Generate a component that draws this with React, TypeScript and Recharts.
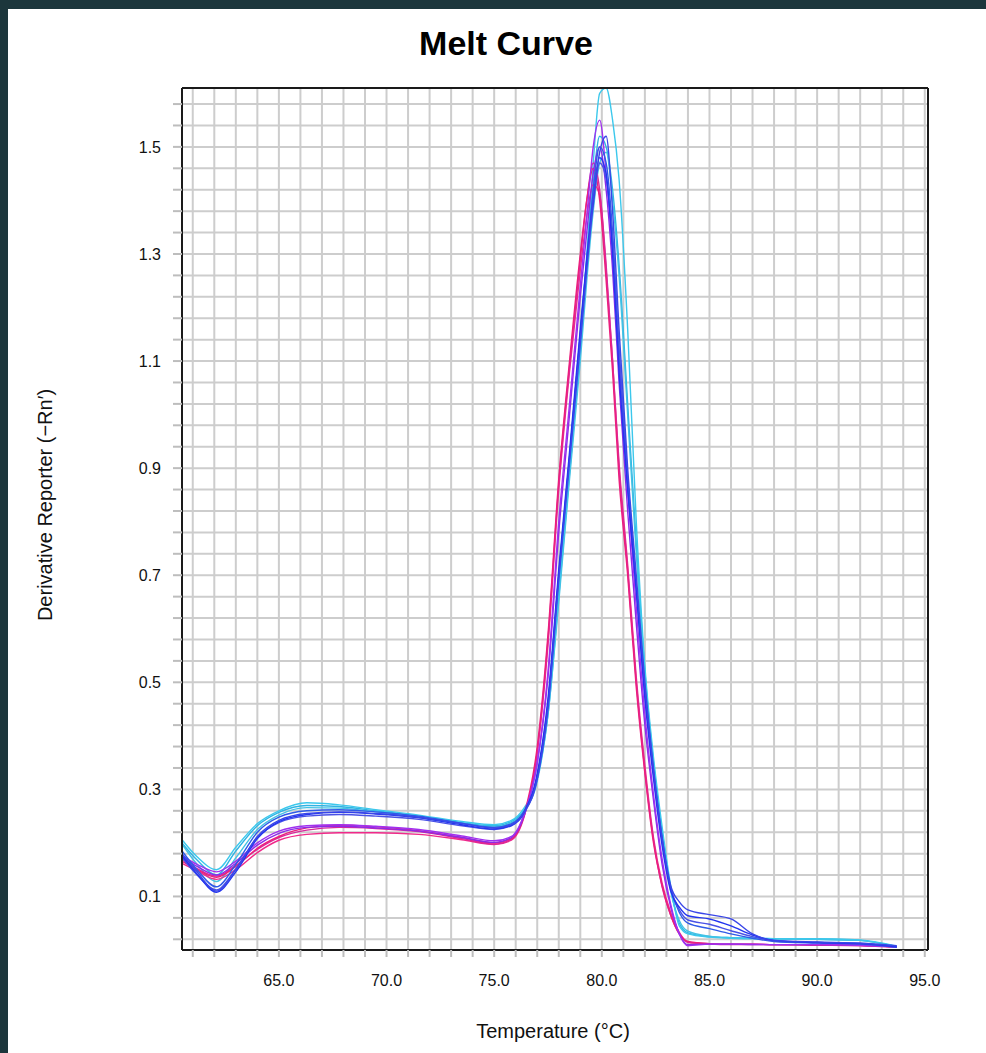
import React from "react";
import { LineChart, Line, XAxis, YAxis, CartesianGrid, ReferenceLine } from "recharts";

// temperature points (°C) shared by every well
const temps = [
  60.5, 61.2, 62.1, 63.0, 64.0, 65.0, 66.3, 67.8, 69.5, 71.5, 73.5, 75.0, 75.8, 76.4, 77.0, 77.5, 78.0, 78.5, 79.0, 79.3,
  79.6, 79.9, 80.2, 80.5, 80.8, 81.2, 81.6, 82.0, 82.4, 82.8, 83.2, 83.6, 84.0, 85.0, 86.0, 87.0, 88.0, 90.0, 92.0, 93.7,
];

// derivative reporter per well
const cyan1 = [
  0.206, 0.174, 0.15, 0.192, 0.236, 0.26, 0.275, 0.271, 0.262, 0.252, 0.24, 0.234, 0.242, 0.266, 0.32, 0.45, 0.67, 0.9, 1.13, 1.3,
  1.47, 1.6, 1.61, 1.55, 1.44, 1.16, 0.8, 0.53, 0.36, 0.23, 0.12, 0.045, 0.03, 0.024, 0.022, 0.021, 0.021, 0.021, 0.019, 0.007,
];
const cyan2 = [
  0.2, 0.168, 0.14, 0.185, 0.232, 0.257, 0.27, 0.268, 0.26, 0.25, 0.238, 0.232, 0.24, 0.262, 0.32, 0.44, 0.66, 0.89, 1.12, 1.28,
  1.43, 1.52, 1.5, 1.42, 1.28, 1.02, 0.76, 0.52, 0.35, 0.22, 0.115, 0.05, 0.032, 0.025, 0.023, 0.022, 0.021, 0.02, 0.018, 0.006,
];
const cyan3 = [
  0.198, 0.16, 0.128, 0.172, 0.225, 0.252, 0.266, 0.265, 0.258, 0.248, 0.236, 0.23, 0.238, 0.26, 0.315, 0.44, 0.65, 0.88, 1.1, 1.25,
  1.38, 1.47, 1.49, 1.4, 1.26, 1.0, 0.74, 0.51, 0.345, 0.215, 0.11, 0.055, 0.035, 0.026, 0.023, 0.022, 0.021, 0.02, 0.018, 0.006,
];
const blue1 = [
  0.18, 0.146, 0.11, 0.15, 0.212, 0.242, 0.255, 0.258, 0.255, 0.248, 0.236, 0.228, 0.234, 0.258, 0.32, 0.45, 0.69, 0.91, 1.13, 1.27,
  1.4, 1.49, 1.52, 1.38, 1.16, 0.9, 0.7, 0.5, 0.34, 0.21, 0.12, 0.09, 0.075, 0.066, 0.058, 0.03, 0.018, 0.015, 0.013, 0.008,
];
const blue2 = [
  0.176, 0.142, 0.108, 0.146, 0.208, 0.24, 0.253, 0.257, 0.254, 0.247, 0.234, 0.226, 0.233, 0.258, 0.33, 0.47, 0.71, 0.93, 1.16, 1.29,
  1.4, 1.48, 1.45, 1.3, 1.08, 0.86, 0.67, 0.47, 0.32, 0.195, 0.11, 0.08, 0.064, 0.058, 0.045, 0.028, 0.018, 0.014, 0.012, 0.006,
];
const blue3 = [
  0.172, 0.14, 0.112, 0.152, 0.21, 0.238, 0.25, 0.253, 0.25, 0.244, 0.232, 0.225, 0.232, 0.256, 0.32, 0.46, 0.7, 0.92, 1.15, 1.28,
  1.39, 1.47, 1.44, 1.32, 1.12, 0.88, 0.68, 0.48, 0.33, 0.205, 0.115, 0.075, 0.056, 0.048, 0.036, 0.025, 0.017, 0.014, 0.012, 0.006,
];
const blue4 = [
  0.185, 0.15, 0.118, 0.16, 0.22, 0.248, 0.26, 0.262, 0.258, 0.25, 0.237, 0.229, 0.236, 0.26, 0.325, 0.46, 0.7, 0.92, 1.15, 1.29,
  1.42, 1.5, 1.47, 1.34, 1.12, 0.87, 0.68, 0.49, 0.335, 0.21, 0.115, 0.07, 0.05, 0.04, 0.03, 0.022, 0.016, 0.013, 0.011, 0.005,
];
const violet1 = [
  0.176, 0.16, 0.146, 0.166, 0.2, 0.222, 0.232, 0.234, 0.231, 0.225, 0.213, 0.204, 0.212, 0.255, 0.35, 0.52, 0.8, 1.02, 1.24, 1.37,
  1.5, 1.55, 1.45, 1.3, 1.1, 0.86, 0.64, 0.44, 0.29, 0.17, 0.085, 0.03, 0.008, 0.011, 0.011, 0.011, 0.01, 0.01, 0.009, 0.006,
];
const violet2 = [
  0.172, 0.156, 0.14, 0.162, 0.196, 0.218, 0.229, 0.231, 0.228, 0.222, 0.21, 0.201, 0.21, 0.252, 0.35, 0.51, 0.78, 1.0, 1.22, 1.34,
  1.45, 1.5, 1.42, 1.27, 1.06, 0.82, 0.61, 0.42, 0.28, 0.16, 0.08, 0.03, 0.01, 0.011, 0.011, 0.01, 0.01, 0.01, 0.009, 0.006,
];
const pink1 = [
  0.166, 0.15, 0.136, 0.156, 0.19, 0.212, 0.228, 0.233, 0.23, 0.223, 0.21, 0.2, 0.208, 0.255, 0.38, 0.59, 0.88, 1.1, 1.3, 1.4,
  1.46, 1.4, 1.25, 1.08, 0.88, 0.7, 0.49, 0.33, 0.2, 0.12, 0.065, 0.03, 0.016, 0.012, 0.011, 0.011, 0.01, 0.01, 0.009, 0.006,
];
const pink2 = [
  0.162, 0.148, 0.132, 0.15, 0.182, 0.205, 0.216, 0.219, 0.219, 0.216, 0.206, 0.197, 0.205, 0.25, 0.37, 0.57, 0.86, 1.08, 1.27, 1.37,
  1.43, 1.41, 1.27, 1.1, 0.91, 0.72, 0.51, 0.345, 0.21, 0.125, 0.07, 0.033, 0.015, 0.012, 0.011, 0.011, 0.01, 0.01, 0.009, 0.006,
];
const pink3 = [
  0.17, 0.152, 0.138, 0.158, 0.188, 0.21, 0.224, 0.229, 0.227, 0.221, 0.208, 0.198, 0.207, 0.252, 0.37, 0.58, 0.87, 1.09, 1.29, 1.4,
  1.47, 1.42, 1.28, 1.1, 0.9, 0.71, 0.5, 0.335, 0.205, 0.118, 0.065, 0.03, 0.014, 0.011, 0.01, 0.01, 0.01, 0.009, 0.008, 0.005,
];

const xGridTicks = [
  61, 62, 63, 64, 65, 66, 67, 68, 69, 70, 71, 72, 73, 74, 75, 76, 77, 78, 79, 80, 81, 82, 83, 84, 85, 86, 87, 88, 89, 90, 91, 92,
  93, 94, 95,
];
const xLabelTicks = [65, 70, 75, 80, 85, 90, 95];
const yGridTicks = [
  0.02, 0.06, 0.1, 0.14, 0.18, 0.22, 0.26, 0.3, 0.34, 0.38, 0.42, 0.46, 0.5, 0.54, 0.58, 0.62, 0.66, 0.7, 0.74, 0.78, 0.82, 0.86,
  0.9, 0.94, 0.98, 1.02, 1.06, 1.1, 1.14, 1.18, 1.22, 1.26, 1.3, 1.34, 1.38, 1.42, 1.46, 1.5, 1.54, 1.58,
];
const yLabelTicks = [0.1, 0.3, 0.5, 0.7, 0.9, 1.1, 1.3, 1.5];

const wells = [
  { key: "cyan2", values: cyan2, color: "#2fb4e4" },
  { key: "cyan3", values: cyan3, color: "#44c2e4" },
  { key: "cyan1", values: cyan1, color: "#3cc8ec" },
  { key: "pink2", values: pink2, color: "#f02a8a" },
  { key: "pink3", values: pink3, color: "#d8289c" },
  { key: "pink1", values: pink1, color: "#ec1f7c" },
  { key: "violet2", values: violet2, color: "#8b2be8" },
  { key: "violet1", values: violet1, color: "#a030f0" },
  { key: "blue4", values: blue4, color: "#2f5ae8" },
  { key: "blue3", values: blue3, color: "#4a52e6" },
  { key: "blue2", values: blue2, color: "#2335f0" },
  { key: "blue1", values: blue1, color: "#3a46e8" },
];

const chartData = temps.map((t, i) => {
  const row: any = { t };
  wells.forEach((w) => (row[w.key] = w.values[i]));
  return row;
});

const FONT = "'Liberation Sans', Arial, sans-serif";

const XTick = (props: any) => {
  const { x, y, payload } = props;
  if (!xLabelTicks.includes(payload.value)) return null;
  return (
    <text x={x} y={y} dy="0.71em" textAnchor="middle" fontSize={16} fontFamily={FONT} fill="#111">
      {payload.value.toFixed(1)}
    </text>
  );
};

const YTick = (props: any) => {
  const { x, y, payload } = props;
  if (!yLabelTicks.some((v) => Math.abs(v - payload.value) < 1e-6)) return null;
  return (
    <text x={x} y={y} dy="0.36em" textAnchor="end" fontSize={16} fontFamily={FONT} fill="#111">
      {payload.value.toFixed(1)}
    </text>
  );
};

export default function App() {
  return (
    <div style={{ position: "fixed", left: 0, top: 0, width: 986, height: 1053, background: "#1c363c" }}>
      <div style={{ position: "absolute", left: 8, top: 9, width: 978, height: 1044, background: "#fff" }}>
        <LineChart width={978} height={1044} data={chartData} margin={{ top: 79, right: 58, bottom: 63, left: 114 }}>
          <CartesianGrid stroke="#cdcdcd" strokeWidth={2} />
          <XAxis
            type="number"
            dataKey="t"
            domain={[60.5, 95.15]}
            ticks={xGridTicks}
            interval={0}
            height={40}
            tickSize={7}
            tickMargin={18}
            tick={<XTick />}
            tickLine={{ stroke: "#bdbdbd", strokeWidth: 2 }}
            axisLine={{ stroke: "#1a1a1a", strokeWidth: 2 }}
          />
          <YAxis
            type="number"
            domain={[0, 1.61]}
            ticks={yGridTicks}
            interval={0}
            width={60}
            tickSize={9}
            tickMargin={12}
            tick={<YTick />}
            tickLine={{ stroke: "#bdbdbd", strokeWidth: 2 }}
            axisLine={{ stroke: "#1a1a1a", strokeWidth: 2 }}
          />
          {wells.map((w) => (
            <Line
              key={w.key}
              type="monotone"
              dataKey={w.key}
              stroke={w.color}
              strokeWidth={1.4}
              dot={false}
              isAnimationActive={false}
            />
          ))}
          <ReferenceLine y={1.61} stroke="#1a1a1a" strokeWidth={2} />
          <ReferenceLine x={95.15} stroke="#1a1a1a" strokeWidth={2} />
        </LineChart>
        <svg width={978} height={1044} style={{ position: "absolute", left: 0, top: 0, pointerEvents: "none" }}>
          <text x={498} y={46} textAnchor="middle" fontSize={34} fontWeight="bold" fontFamily={FONT} fill="#000">
            Melt Curve
          </text>
          <text x={545} y={1029} textAnchor="middle" fontSize={20} fontFamily={FONT} fill="#111">
            Temperature (°C)
          </text>
          <text
            x={0}
            y={0}
            transform="translate(44,496) rotate(-90)"
            textAnchor="middle"
            fontSize={20}
            fontFamily={FONT}
            fill="#111"
          >
            Derivative Reporter (−Rn′)
          </text>
        </svg>
      </div>
    </div>
  );
}
